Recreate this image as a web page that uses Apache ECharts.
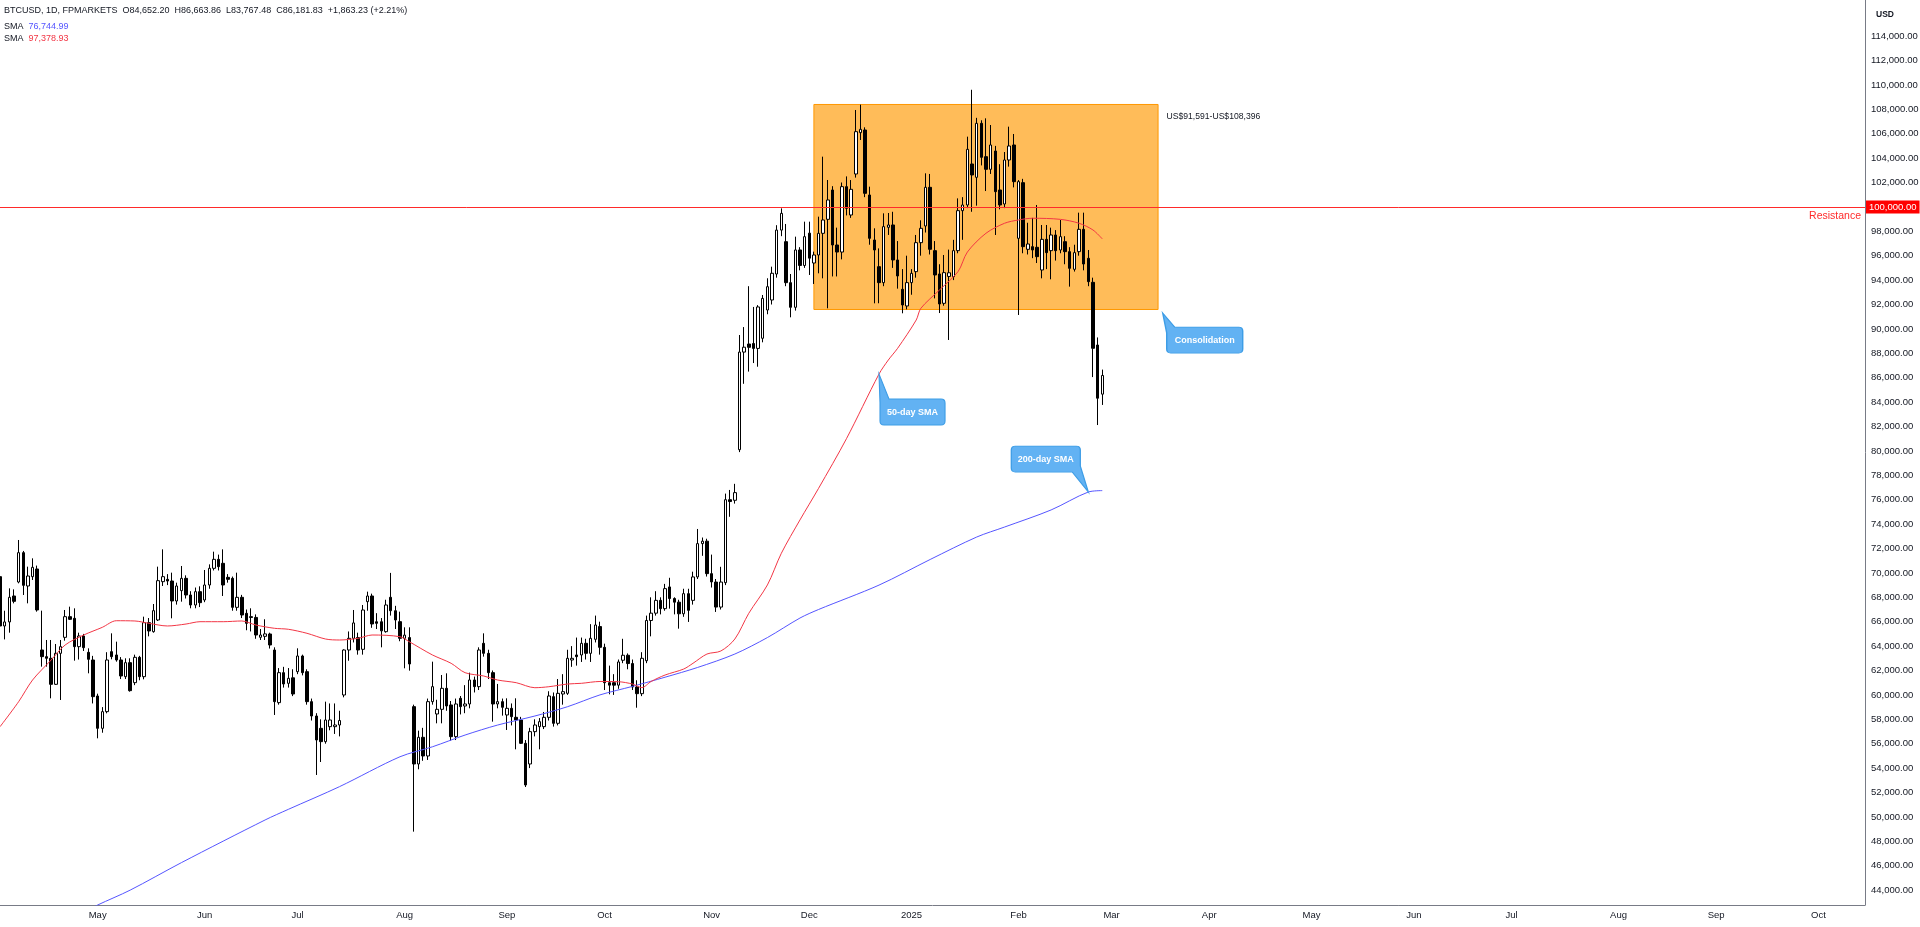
<!DOCTYPE html>
<html><head><meta charset="utf-8">
<script src="https://cdn.jsdelivr.net/npm/echarts@6/dist/echarts.min.js"></script>
<style>html,body{margin:0;padding:0;background:#fff}#c{width:1920px;height:927px}</style>
</head><body><div id="c"></div>
<script>
// ---------- data (weekday bars, FPMARKETS BTCUSD 1D) ----------
const firstBar = '2024-04-02';
const barSlots = 402; // bars incl. future time-scale slots
const monthNames = ['Jan','Feb','Mar','Apr','May','Jun','Jul','Aug','Sep','Oct','Nov','Dec'];

const opens = [
69692,65650,65980,68107,69254,71659,68927,69692,70320,
63681,63135,63000,60867,63408,64719,66413,66277,63954,64829,
63490,62862,59911,57261,58627,63545,63272,62862,61495,62643,
61004,63080,61495,65921,65184,66140,69282,69473,69336,67697,
68544,69555,68189,67370,68462,67779,69009,70375,71112,70785,
69637,69555,67178,67998,66686,66413,66350,64720,64800,64993,
63681,59365,61823,60950,61400,61905,63190,61905,59447,58272,
57261,56168,57397,57397,57534,59993,63681,64638,64700,63736,
67643,68107,65996,65996,65184,68000,66900,66004,64638,64700,
59037,54338,56524,54994,59447,58436,58818,60540,59174,56578,
59720,59092,59256,61223,60676,64228,63408,61824,59256,59447,
58354,58900,58163,57944,56032,54338,56988,57398,57398,58163,
59857,57671,60075,60130,62861,63272,63272,64228,63408,64556,
65600,63900,61000,61000,60800,62840,63250,62570,60650,60100,
62800,66100,66700,67750,67070,68850,67900,67600,66650,68300,
67750,69670,72400,72600,69940,69250,67200,69200,76000,75950,
80100,88100,88760,88800,88400,89230,91550,92370,94500,98100,
97150,93790,91770,96470,95200,97850,95400,96058,97834,98982,
101386,96878,96300,101659,99337,102697,106085,106304,100976,97288,
95102,93791,98326,98518,95649,93245,91879,93791,94693,97069,
98436,101605,96414,94502,92097,94300,94283,96414,99692,100157,
103517,102424,106850,104118,103080,104582,101386,100239,103845,105074,
97424,101987,96523,96741,96687,94829,97342,96414,97698,96468,
97151,96332,94884,96332,98162,95786,93818,88680,84652.20
];
const highs = [
69750,66900,68735,68653,72697,71800,70511,71194,70600,
66905,64501,64501,64173,64501,66960,67233,67096,65100,65000,
63818,63200,60100,59000,63500,65047,64364,63100,63000,63000,
63300,63200,66413,66300,67451,70511,71932,69900,70019,69200,
70566,69800,68500,68800,68900,70238,70700,71740,71500,71932,
69900,69700,70019,68200,67000,67100,66600,65400,66200,65100,
63900,62200,62300,62200,62100,63818,63300,62100,59700,58500,
58000,59447,59300,59300,58700,63736,65200,66960,65100,67370,
68462,68300,66700,66300,67800,70000,67300,66823,65540,65540,
59200,57070,57300,59700,62725,59600,61632,61769,59500,59700,
59911,60800,61824,61500,63900,65047,63700,62000,60900,59700,
59720,59300,59720,58200,56300,57300,58000,58100,58600,60300,
60200,61300,61700,63700,64000,64700,64700,64600,65800,66500,
66000,64200,62400,61700,62900,64600,63400,62900,61200,63500,
66500,68000,68500,68000,69100,69600,68000,67800,68700,68700,
70100,73600,72900,72800,71500,69500,70500,76500,76800,77300,
89500,90150,93500,91800,91950,92780,94150,95100,98500,99880,
98600,94500,97560,96700,98790,98790,96332,99200,104118,102206,
101700,98300,102000,102500,102200,107943,108380,106522,101659,98244,
96600,99473,99500,99600,97200,94900,96000,94900,97700,98900,
102752,102700,97200,95300,96058,96500,97300,100700,100800,105757,
109600,107300,107100,107260,106713,105000,103500,104500,106577,105976,
102200,102300,98700,99100,100157,98517,98517,98300,98100,98927,
97600,96700,96900,99528,99528,96468,94200,89300,86663.86
];
const lows = [
64900,64550,65100,67506,69145,68189,67506,69418,66823,
62315,62315,59720,60813,59583,64446,66140,62807,62900,63600,
61769,59300,56441,56900,58490,62916,62725,61300,61300,60266,
60800,61200,61277,64800,65102,66058,68927,69000,66277,67400,
67643,67900,67100,67100,67200,67600,68700,70200,70200,68107,
69200,66900,66900,66300,65300,65200,64600,64500,64500,63800,
58354,59200,60600,60600,59900,61700,61600,59200,57900,53436,
54500,56000,57100,56800,56600,59800,62800,64300,63300,63300,
66900,65500,65400,63900,65100,66500,65400,64400,62180,61988,
48792,53901,54600,54666,59200,57671,57671,58700,56250,56300,
58400,58500,58900,60200,60400,63135,61300,57808,58900,58300,
57125,57500,55540,55977,52450,54000,56600,55540,57200,57900,
57400,57500,59200,60000,62300,62400,62700,62900,62700,64300,
63300,60400,60050,60000,60500,62600,62100,60400,58950,59900,
62600,64800,66500,66600,66900,67070,66600,65430,66400,65980,
67400,69500,71400,69700,68800,66800,67000,69000,74600,75680,
79900,85500,86500,87200,86900,88900,91200,92000,94200,97600,
93500,90950,91500,94800,95000,94420,93682,94556,94146,91688,
94300,94300,95700,99300,99100,102400,105484,100800,96900,92097,
92100,93500,97700,95000,93300,91278,91600,92800,94200,96000,
97900,96100,92500,91300,91900,89092,94000,96200,97300,99900,
99600,100100,103400,101300,102700,97698,99800,99900,103300,101600,
91141,96200,96100,95800,95400,94146,94900,94064,95600,96200,
95300,93463,94700,96000,94800,93500,86050,82120,83767.48
];
const closes = [
65648,65980,68000,67670,71659,68981,69746,70457,66960,
63135,63000,60867,63408,63954,66413,66195,63954,64829,63872,
62916,59856,57261,58627,62862,63135,62862,61550,62643,60348,
63080,61495,65921,65238,66905,69364,69692,69336,67697,68927,
69555,68189,67370,68462,67561,69009,70375,71112,70511,69009,
69473,67178,67998,66550,65867,66350,64911,64911,65000,64091,
59447,61823,60895,61359,60075,63190,61823,59447,58272,56305,
56168,57944,57944,57534,57900,63681,64638,65900,63681,66960,
68107,65812,65867,65250,67370,66900,66140,64638,64900,62534,
54338,56524,54994,59447,60676,58818,60540,59092,56578,59256,
59037,59256,61223,60676,63681,63408,61824,59256,59447,58983,
58900,58217,57944,56032,52617,56988,57534,57807,58163,59911,
57671,60130,60266,62998,62998,63135,64228,63408,64638,65730,
63900,61000,60800,60800,62700,63250,62570,60650,60100,63000,
66100,66700,67750,67070,68710,67900,67600,66650,68300,66930,
69670,72400,72600,69940,69260,67200,69250,76000,75850,76580,
88100,88500,88490,88400,91800,92500,93460,94560,98100,99470,
93790,91770,96470,95200,97560,95800,96058,97834,98927,100567,
96878,96300,101659,99883,101441,106167,106358,101113,97424,96468,
93791,98381,98518,95649,94338,91961,93791,94556,97069,98244,
101605,96523,94420,92043,94611,94600,96414,99692,100157,104719,
102616,106850,104063,103080,105074,101249,100157,103845,104992,102069,
102069,96741,96960,96468,95922,97342,96250,97698,96414,97561,
96332,94966,96250,98162,95321,93873,88410,84318.60,86181.83
];
// SMA lines: [bar index, value]
const sma50 = [[0,57390],[4,59440],[7,61220],[11,62860],[14,64090],[18,64910],[22,65540],[25,66080],[29,66060],[32,65870],[36,65650],[40,65810],[43,66000],[48,66000],[52,66060],[55,65730],[59,65460],[62,65380],[66,65050],[70,64580],[73,64500],[77,64640],[80,64910],[86,64770],[88,64360],[93,63270],[97,62590],[100,61820],[104,61550],[107,61220],[111,61000],[115,60590],[118,60670],[122,60890],[125,60950],[129,61100],[133,61080],[136,60890],[138,60600],[140,61100],[143,61630],[147,62120],[149,62590],[152,63350],[155,63600],[158,64580],[161,66690],[165,69010],[168,71610],[172,74340],[176,76930],[182,81000],[189,86300],[191,87450],[193,88410],[197,90730],[198,91690],[202,93190],[206,94700],[208,96300],[212,97840],[216,98660],[219,98930],[222,99070],[228,98980],[232,98660],[235,98110],[237,97378.93]];
const sma200 = [[17,42000],[21,42780],[28,44000],[39,46250],[57,49750],[62,50620],[73,52480],[86,54930],[93,55750],[100,56710],[107,57530],[115,58270],[122,59030],[129,60000],[136,60700],[143,61450],[150,62250],[158,63350],[165,64700],[172,66300],[176,67000],[189,69000],[200,71100],[210,72940],[216,73760],[226,75160],[234,76630],[237,76744.99]];
const resistance = 100000;
const zoneLow = 91591, zoneHigh = 108396;
const zoneStart = '2024-12-03', zoneEnd = '2025-03-17';

// ---------- helpers ----------
function weekdays(start, n){
  const out=[]; const d=new Date(start+'T00:00:00Z');
  while(out.length<n){ const w=d.getUTCDay(); if(w!==0&&w!==6) out.push(d.toISOString().slice(0,10)); d.setUTCDate(d.getUTCDate()+1); }
  return out;
}
const dates = weekdays(firstBar, barSlots);
const monthStart = new Set();
dates.forEach((d,i)=>{ if(i>0 && d.slice(0,7)!==dates[i-1].slice(0,7)) monthStart.add(i); });
const fmt = v => v.toLocaleString('en-US',{minimumFractionDigits:2, maximumFractionDigits:2});
const candles = opens.map((o,i)=>[o, closes[i], lows[i], highs[i]]);
const toXY = arr => arr.map(p=>[dates[p[0]], p[1]]);
const last = opens.length-1;
const chg = closes[last]-closes[last-1];
const pct = chg/closes[last-1]*100;

const FONT = 'Liberation Sans, Arial, sans-serif';
const TXT = '#131722';
const RED = '#f23645', BLUE = '#5555ff';
const calloutStyle = {color:'#62b2f3', borderColor:'#3d9de6', borderWidth:1};
const calloutLabel = {show:true, position:'inside', color:'#fff', fontSize:9, fontWeight:'bold', fontFamily:FONT};
const hdr = {fontSize:9, color:TXT, fontFamily:FONT, fontWeight:'normal'};

const chart = echarts.init(document.getElementById('c'), null, {renderer:'canvas'});
chart.setOption({
  animation:false,
  backgroundColor:'#ffffff',
  title:[
    {left:4, top:6, padding:0, text:`{t|BTCUSD, 1D, FPMARKETS}  {t|O${fmt(opens[last])}}  {t|H${fmt(highs[last])}}  {t|L${fmt(lows[last])}}  {t|C${fmt(closes[last])}}  {t|${chg>=0?'+':''}${fmt(chg)} (${pct>=0?'+':''}${pct.toFixed(2)}%)}`,
     textStyle:Object.assign({}, hdr, {rich:{t:hdr}})},
    {left:4, top:22, padding:0, text:`{t|SMA}  {b|${fmt(sma200[sma200.length-1][1])}}`,
     textStyle:Object.assign({}, hdr, {rich:{t:hdr, b:Object.assign({}, hdr, {color:BLUE})}})},
    {left:4, top:34, padding:0, text:`{t|SMA}  {r|${fmt(sma50[sma50.length-1][1])}}`,
     textStyle:Object.assign({}, hdr, {rich:{t:hdr, r:Object.assign({}, hdr, {color:RED})}})},
    {right:26, top:10, padding:0, text:'USD', textStyle:{fontSize:8.5, color:TXT, fontWeight:'bold', fontFamily:FONT}}
  ],
  grid:{left:0, right:55, top:0, bottom:22, containLabel:false, outerBoundsMode:'none'},
  xAxis:{
    type:'category', data:dates, boundaryGap:false,
    axisLine:{show:true, lineStyle:{color:'#787b86', width:1}},
    axisTick:{show:false}, splitLine:{show:false},
    axisLabel:{
      interval:(i)=>monthStart.has(i), hideOverlap:false, margin:5,
      color:TXT, fontSize:9.5, fontFamily:FONT,
      formatter:(v)=>{ const m=+v.slice(5,7); return m===1 ? v.slice(0,4) : monthNames[m-1]; }
    }
  },
  yAxis:{
    type:'value', position:'right', min:42779, max:116959, minInterval:2000, maxInterval:2000,
    axisLine:{show:true, lineStyle:{color:'#787b86', width:1}},
    axisTick:{show:false}, splitLine:{show:false},
    axisLabel:{margin:6, color:TXT, fontSize:9.5, fontFamily:FONT,
      showMinLabel:false, showMaxLabel:false,
      formatter:(v)=> (v%2000===0 && v!==resistance && v<=114000) ? fmt(v) : ''}
  },
  series:[
    {
      name:'zone', type:'line', data:[], silent:true, z:1,
      markArea:{silent:true,
        itemStyle:{color:'rgba(255,152,0,0.65)', borderColor:'#ff9800', borderWidth:1},
        label:{show:true, position:['100%',0], padding:[8,0,0,8], color:TXT, fontSize:8.6, fontFamily:FONT,
          formatter:`US$${zoneLow.toLocaleString('en-US')}-US$${zoneHigh.toLocaleString('en-US')}`},
        data:[[{xAxis:zoneStart, yAxis:zoneLow},{xAxis:zoneEnd, yAxis:zoneHigh}]]
      },
      markLine:{silent:true, symbol:['none','none'],
        data:[
          {yAxis:resistance, lineStyle:{color:'#ff2a2a', width:1, type:'solid'},
           label:{show:true, position:'end', distance:1, formatter:fmt(resistance), color:'#fff', backgroundColor:'#ff0000',
             padding:[2,3,1,3], fontSize:9.5, fontFamily:FONT}},
          {yAxis:resistance, lineStyle:{color:'rgba(255,255,255,0)', width:1},
           label:{show:true, position:'insideEndBottom', distance:4, formatter:'Resistance', color:'#ff2a2a', fontSize:10.5, fontFamily:FONT}}
        ]
      },
      markPoint:{
        silent:true,
        data:[
          {name:'Consolidation', coord:['2025-03-18', 91300],
           symbol:'path://M0,0 L12,14 L76,14 Q80,14 80,18 L80,36 Q80,40 76,40 L8,40 Q4,40 4,36 L4,20 Z',
           symbolSize:[80,40], symbolOffset:[40,20], symbolKeepAspect:false, itemStyle:calloutStyle,
           label:Object.assign({}, calloutLabel, {formatter:'Consolidation', offset:[2,7]})},
          {name:'50', coord:['2024-12-23', 86300],
           symbol:'path://M0,0 L10,25 L62,25 Q66,25 66,29 L66,47 Q66,51 62,51 L5,51 Q1,51 1,47 L1,29 Z',
           symbolSize:[66,51], symbolOffset:[33,25.5], symbolKeepAspect:false, itemStyle:calloutStyle,
           label:Object.assign({}, calloutLabel, {formatter:'50-day SMA', offset:[0.5,12.5]})},
          {name:'200', coord:['2025-02-24', 76630],
           symbol:'path://M4,0 L65,0 Q69,0 69,4 L69,20 L77,46 L61,26 L4,26 Q0,26 0,22 L0,4 Q0,0 4,0 Z',
           symbolSize:[77,46], symbolOffset:[-38.5,-23], symbolKeepAspect:false, itemStyle:calloutStyle,
           label:Object.assign({}, calloutLabel, {formatter:'200-day SMA', offset:[-4,-10]})}
        ]
      }
    },
    {
      name:'BTCUSD', type:'candlestick', data:candles, z:2, barWidth:3,
      itemStyle:{color:'#ffffff', color0:'#000000', borderColor:'#000000', borderColor0:'#000000', borderWidth:1}
    },
    {name:'SMA200', type:'line', data:toXY(sma200), z:3, showSymbol:false, smooth:0.3,
     lineStyle:{color:BLUE, width:1}},
    {name:'SMA50', type:'line', data:toXY(sma50), z:3, showSymbol:false, smooth:0.3,
     lineStyle:{color:RED, width:1}}
  ]
});
</script></body></html>
